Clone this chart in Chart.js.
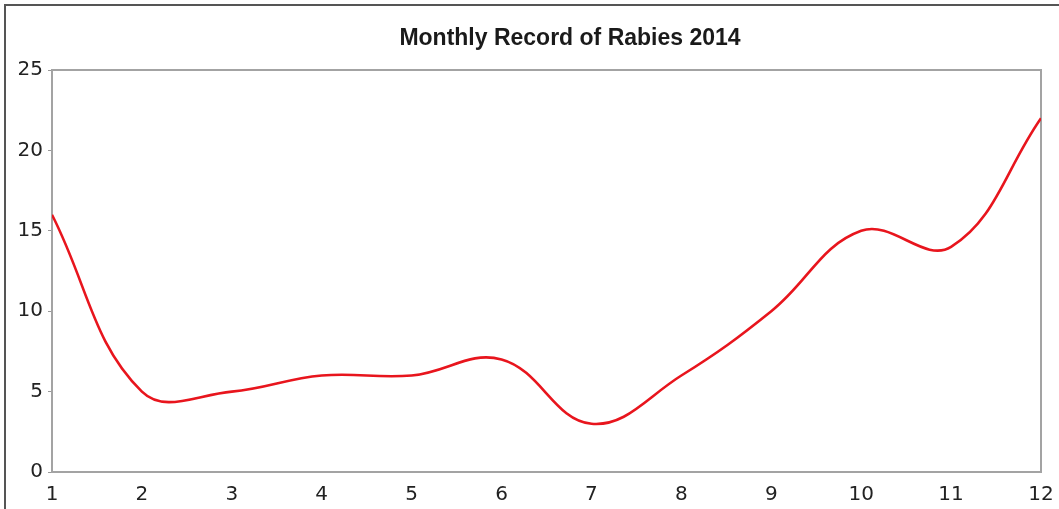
<!DOCTYPE html>
<html>
<head>
<meta charset="utf-8">
<script src="https://cdn.jsdelivr.net/npm/chart.js@4.4.0/dist/chart.umd.min.js"></script>
<style>
html,body{margin:0;padding:0;background:#fff;}
#wrap{width:1059px;height:509px;position:relative;}
</style>
</head>
<body>
<div id="wrap"><canvas id="c" width="1059" height="509"></canvas></div>
<script>
const titleText = "Monthly Record of Rabies 2014";
const months = [1,2,3,4,5,6,7,8,9,10,11,12];
const cases = [16,5,5,6,6,7,3,6,10,15,14,22];
const yTicks = [0,5,10,15,20,25];

const framePlugin = {
  id: 'frame',
  beforeDraw(chart){
    const ctx = chart.ctx;
    ctx.save();
    ctx.fillStyle = '#fff';
    ctx.fillRect(0,0,chart.width,chart.height);
    ctx.strokeStyle = '#555';
    ctx.lineWidth = 2;
    ctx.strokeRect(5,5,chart.width+20,chart.height+20);
    ctx.fillStyle = '#1a1a1a';
    ctx.font = 'bold 23px "Liberation Sans", Arial, sans-serif';
    ctx.textAlign = 'center';
    ctx.textBaseline = 'middle';
    ctx.fillText(titleText, 570, 39);
    ctx.restore();
  },
  beforeDatasetsDraw(chart){
    const a = chart.chartArea, ctx = chart.ctx;
    ctx.save();
    ctx.strokeStyle = '#a3a3a3';
    ctx.lineWidth = 2;
    ctx.strokeRect(a.left, a.top, a.right-a.left, a.bottom-a.top);
    ctx.restore();
  }
};

new Chart(document.getElementById('c'), {
  type: 'line',
  data: {
    datasets: [{
      data: months.map((m,i)=>({x:m,y:cases[i]})),
      borderColor: '#e8151d',
      borderWidth: 2.6,
      pointRadius: 0,
      tension: 0.4,
      fill: false
    }]
  },
  options: {
    responsive: false,
    animation: false,
    devicePixelRatio: 1,
    layout: { padding: { left: 0, right: 18, top: 70, bottom: 0 } },
    plugins: {
      legend: { display: false },
      tooltip: { enabled: false },
      title: { display: false }
    },
    scales: {
      x: {
        type: 'linear',
        min: 1, max: 12,
        afterBuildTicks(s){ s.ticks = months.map(v=>({value:v})); },
        afterFit(s){ s.height = 37; s.paddingRight = 0; s.paddingLeft = 0; },
        grid: { display: false, drawOnChartArea: false, drawTicks: true, tickLength: 3, color: '#999' },
        border: { display: true, color: '#a3a3a3', width: 2 },
        ticks: { color: '#222', font: { family: 'DejaVu Sans', size: 20 }, padding: 8, maxRotation: 0, autoSkip: false }
      },
      y: {
        min: 0, max: 25,
        afterBuildTicks(s){ s.ticks = yTicks.map(v=>({value:v})); },
        afterFit(s){ s.width = 52; },
        grid: { drawOnChartArea: false, drawTicks: true, tickLength: 4, color: '#999' },
        border: { display: true, color: '#a3a3a3', width: 2 },
        ticks: { color: '#222', font: { family: 'DejaVu Sans', size: 20 }, padding: 5 }
      }
    }
  },
  plugins: [framePlugin]
});
</script>
</body>
</html>
